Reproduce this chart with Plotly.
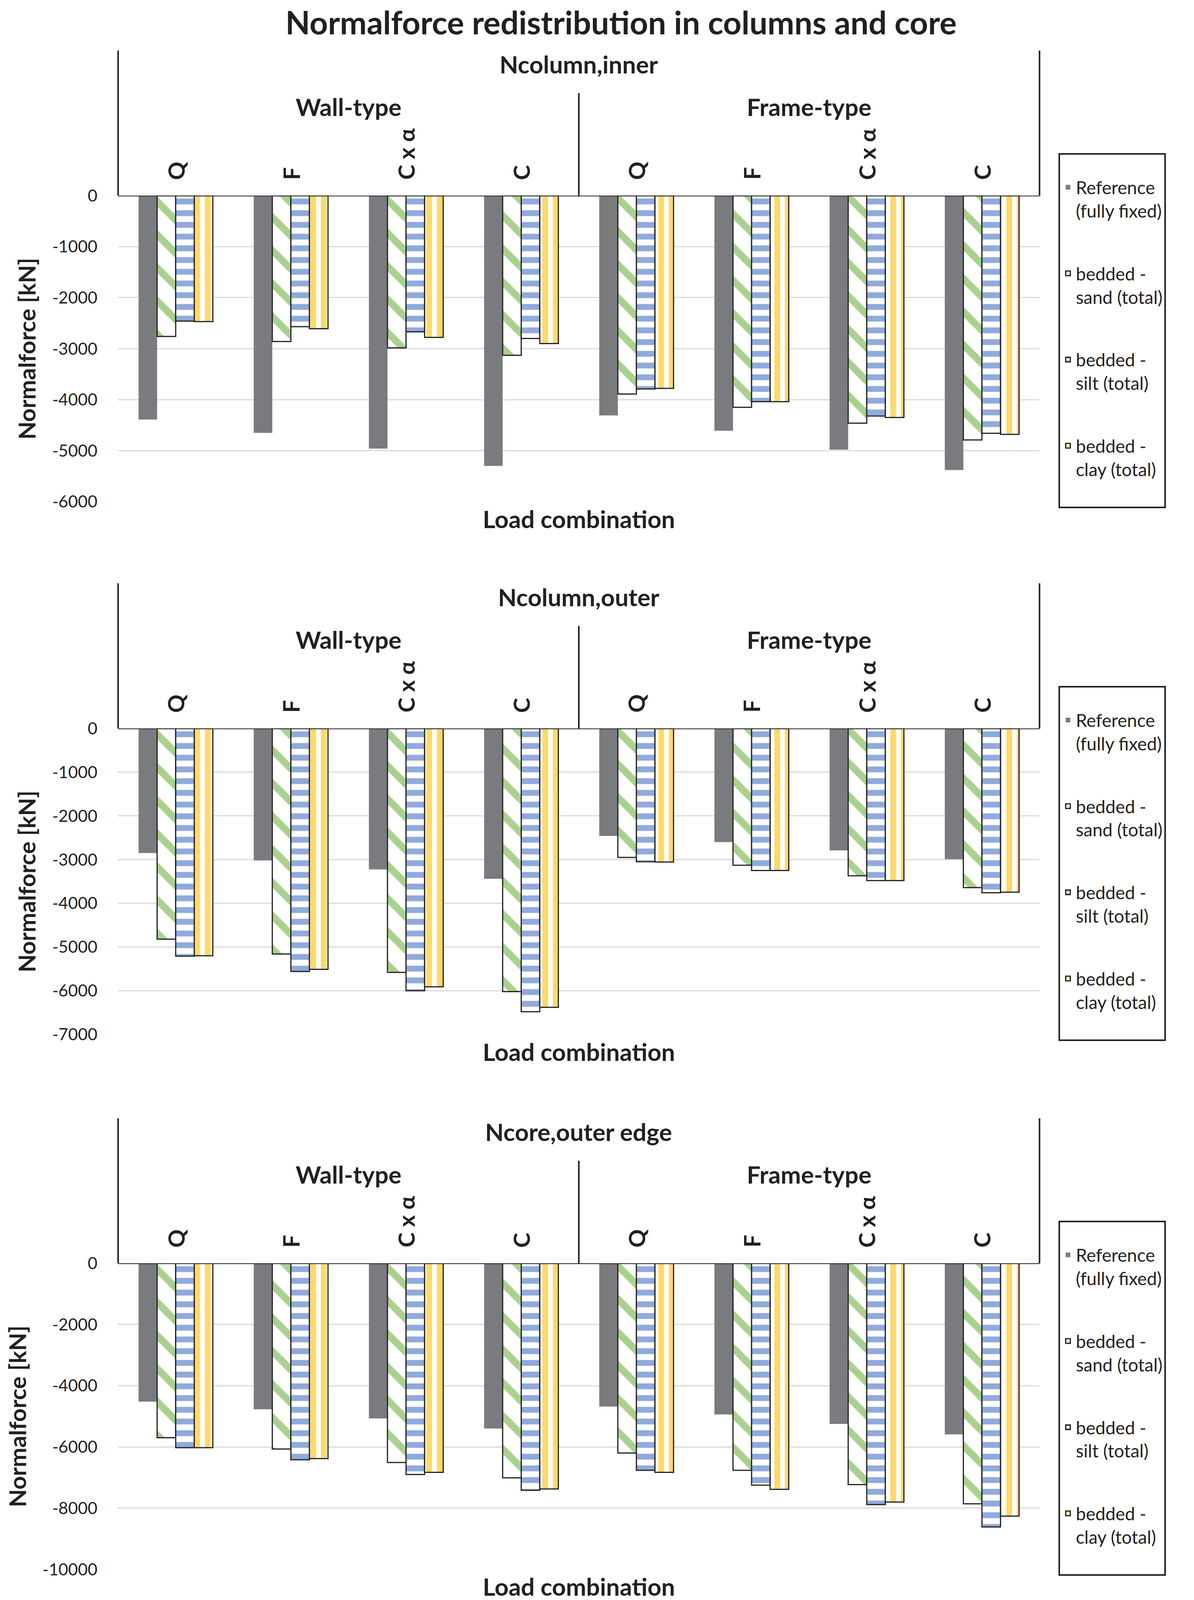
import plotly.graph_objects as go

groups = ["Wall-type", "Frame-type"]
combos = ["Q", "F", "C x α", "C"]
series = ["Reference<br>(fully fixed)", "bedded -<br>sand (total)",
          "bedded -<br>silt (total)", "bedded -<br>clay (total)"]
panel_titles = ["Ncolumn,inner", "Ncolumn,outer", "Ncore,outer edge"]

inner_ticks = [0, -1000, -2000, -3000, -4000, -5000, -6000]
outer_ticks = [0, -1000, -2000, -3000, -4000, -5000, -6000, -7000]
core_ticks = [0, -2000, -4000, -6000, -8000, -10000]

# kN, order: Wall Q, F, C x a, C | Frame Q, F, C x a, C
inner_reference = [-4390, -4650, -4960, -5300, -4310, -4610, -4980, -5380]
inner_sand = [-2760, -2860, -2985, -3130, -3890, -4150, -4460, -4790]
inner_silt = [-2460, -2570, -2670, -2800, -3790, -4040, -4320, -4660]
inner_clay = [-2470, -2610, -2780, -2900, -3780, -4040, -4350, -4680]

outer_reference = [-2850, -3020, -3225, -3440, -2460, -2600, -2790, -2990]
outer_sand = [-4820, -5160, -5580, -6020, -2950, -3130, -3370, -3640]
outer_silt = [-5210, -5560, -6000, -6480, -3050, -3250, -3480, -3760]
outer_clay = [-5200, -5510, -5910, -6380, -3055, -3250, -3480, -3745]

core_reference = [-4520, -4770, -5070, -5400, -4680, -4940, -5250, -5590]
core_sand = [-5700, -6070, -6510, -7010, -6200, -6765, -7230, -7860]
core_silt = [-6025, -6420, -6900, -7420, -6765, -7250, -7885, -8615]
core_clay = [-6025, -6380, -6830, -7375, -6830, -7385, -7800, -8260]

panels = [
    [inner_reference, inner_sand, inner_silt, inner_clay],
    [outer_reference, outer_sand, outer_silt, outer_clay],
    [core_reference, core_sand, core_silt, core_clay],
]
panel_ticks = [inner_ticks, outer_ticks, core_ticks]

keys = [g + " " + c for g in groups for c in combos]
labels = [c for g in groups for c in combos]

# bar looks (excel pattern fills)
looks = [
    dict(color="#7a7b7f", shape="", size=8, solidity=0.3, lw=0),
    dict(color="#a9d18e", shape="\\", size=60, solidity=0.3, lw=3),
    dict(color="#8faadc", shape="-", size=30, solidity=0.5, lw=3),
    dict(color="#ffd966", shape="|", size=27, solidity=0.55, lw=3),
]

H = 4820  # reference height, used to turn pixel offsets into paper units
ink = "#231f20"
font = "Lato"
x_dom = [0.0963, 0.868]
zero_y = [0.8797, 0.5467, 0.2124]   # paper y of the 0 line per panel
plot_h = 922 / H

fig = go.Figure()
layout = {}
annotations = []
shapes = []


def txt(text, xref, x, y, size, yanchor="middle", angle=0):
    return dict(text=text, xref=xref, yref="paper", x=x, y=y, showarrow=False,
                xanchor="center", yanchor=yanchor, textangle=angle,
                font=dict(family=font, size=size, color=ink, weight="bold"))


for p in range(3):
    n = "" if p == 0 else str(p + 1)
    xa, ya = "x" + n, "y" + n
    leg = "legend" + n
    z = zero_y[p]

    for s in range(4):
        lk = looks[s]
        name = series[s] + ("<br> " if s == 3 else "")
        fig.add_trace(go.Bar(
            x=keys, y=panels[p][s], name=name,
            xaxis=xa, yaxis=ya, legend=leg,
            legendgroup="p%d_%d" % (p, s),
            marker=dict(
                color=lk["color"],
                line=dict(color=ink, width=lk["lw"]),
                pattern=dict(shape=lk["shape"], fgcolor=lk["color"], bgcolor="white",
                             size=lk["size"], solidity=lk["solidity"], fillmode="replace"),
            ),
        ))

    ticks = panel_ticks[p]
    layout["xaxis" + n] = dict(
        domain=x_dom, anchor=ya, type="category", categoryorder="array",
        categoryarray=keys, showticklabels=False, showgrid=False,
        showline=False, zeroline=False, ticks="", automargin=False)
    layout["yaxis" + n] = dict(
        domain=[z - plot_h, z], anchor=xa, range=[min(ticks), 0],
        tickmode="array", tickvals=ticks, ticktext=[str(t) for t in ticks],
        showgrid=True, gridcolor="#d9d9d9", gridwidth=3, zeroline=False,
        showline=False, ticks="", ticklabelstandoff=52, automargin=False,
        tickfont=dict(family=font, size=43, color=ink),
        title=dict(text="Normalforce [kN]", standoff=22,
                   font=dict(family=font, size=60, color=ink, weight="bold")))
    layout[leg] = dict(
        x=0.884, y=z + 128 / H, xanchor="left", yanchor="top",
        bordercolor=ink, borderwidth=4, bgcolor="white",
        font=dict(family=font, size=46, color=ink),
        traceorder="grouped", tracegroupgap=98, valign="top", itemwidth=30,
        title=dict(text=" ", font=dict(size=36)))

    # header box of the category axis
    for xx, top in [(0, 437), (1, 437), (0.5, 309)]:
        shapes.append(dict(type="line", xref=xa + " domain", yref="paper",
                           x0=xx, x1=xx, y0=z, y1=z + top / H,
                           line=dict(color=ink, width=4)))
    shapes.append(dict(type="line", xref=xa + " domain", yref=ya,
                       x0=0, x1=1, y0=0, y1=0, layer="above",
                       line=dict(color=ink, width=4)))

    annotations.append(txt(panel_titles[p], xa + " domain", 0.5, z + 396 / H, 62))
    for gi, g in enumerate(groups):
        annotations.append(txt(g, xa + " domain", 0.25 + 0.5 * gi, z + 268 / H, 62))
    for k, lab in zip(keys, labels):
        annotations.append(txt(lab, xa, k, z + 45 / H, 58, yanchor="bottom", angle=-90))
    annotations.append(txt("Load combination", xa + " domain", 0.5,
                           z - plot_h - 51 / H, 62))

fig.update_layout(
    autosize=True, margin=dict(l=0, r=0, t=0, b=0, autoexpand=False),
    paper_bgcolor="white", plot_bgcolor="white",
    barmode="group", bargap=0.355, bargroupgap=0,
    title=dict(text="Normalforce redistribution in columns and core",
               x=0.5175, y=1 - 60 / H, xanchor="center", yanchor="middle",
               font=dict(family=font, size=82, color=ink, weight="bold")),
    annotations=annotations, shapes=shapes,
    **layout,
)

fig.write_html("out.html", default_width="100vw", default_height="100vh")
